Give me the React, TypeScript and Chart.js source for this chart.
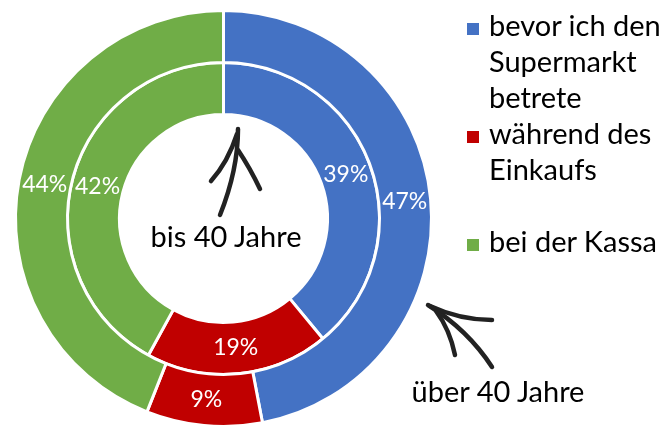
import React, { useEffect, useRef } from "react";
import { Chart, registerables } from "chart.js";

Chart.register(...registerables);

const categories = ["bevor ich den Supermarkt betrete", "während des Einkaufs", "bei der Kassa"];
const legendLines = [["bevor ich den", "Supermarkt", "betrete"], ["während des", "Einkaufs"], ["bei der Kassa"]];
const seriesNames = ["über 40 Jahre", "bis 40 Jahre"];
const over40 = [47, 9, 44];
const upTo40 = [39, 19, 42];
const colors = ["#4472C4", "#C00000", "#70AD47"];

const FONT = "Lato, 'Open Sans', sans-serif";

const labelPlugin = {
  id: "pctLabels",
  afterDatasetsDraw(chart: any) {
    const ctx = chart.ctx;
    ctx.save();
    ctx.fillStyle = "#ffffff";
    ctx.font = `23px ${FONT}`;
    ctx.textAlign = "center";
    ctx.textBaseline = "middle";
    chart.data.datasets.forEach((ds: any, di: number) => {
      const meta = chart.getDatasetMeta(di);
      meta.data.forEach((arc: any, i: number) => {
        const p = arc.tooltipPosition();
        ctx.fillText(ds.data[i] + "%", p.x, p.y);
      });
    });
    ctx.restore();
  },
};

const arrowPlugin = {
  id: "handArrows",
  afterDraw(chart: any) {
    const ctx = chart.ctx;
    ctx.save();
    ctx.strokeStyle = "#222222";
    ctx.lineWidth = 4.5;
    ctx.lineCap = "round";
    ctx.lineJoin = "round";
    // arrow pointing to inner ring (bis 40 Jahre)
    ctx.beginPath();
    ctx.moveTo(220, 215);
    ctx.quadraticCurveTo(238, 170, 238, 129);
    ctx.stroke();
    ctx.beginPath();
    ctx.moveTo(237, 134);
    ctx.quadraticCurveTo(228, 162, 211, 181);
    ctx.stroke();
    ctx.beginPath();
    ctx.moveTo(238, 150);
    ctx.quadraticCurveTo(250, 168, 260, 189);
    ctx.stroke();
    // arrow pointing to outer ring (über 40 Jahre)
    ctx.beginPath();
    ctx.moveTo(428, 305);
    ctx.quadraticCurveTo(468, 330, 492, 367);
    ctx.stroke();
    ctx.beginPath();
    ctx.moveTo(430, 306);
    ctx.quadraticCurveTo(460, 320, 492, 320);
    ctx.stroke();
    ctx.beginPath();
    ctx.moveTo(436, 311);
    ctx.quadraticCurveTo(450, 330, 455, 355);
    ctx.stroke();
    ctx.restore();
  },
};

export default function App() {
  const ref = useRef<HTMLCanvasElement>(null);

  useEffect(() => {
    document.body.style.margin = "0";
    document.body.style.overflow = "hidden";
    const chart = new Chart(ref.current as HTMLCanvasElement, {
      type: "doughnut",
      data: {
        labels: categories,
        datasets: [
          { label: seriesNames[0], data: over40, backgroundColor: colors, borderColor: "#ffffff", borderWidth: 3 },
          { label: seriesNames[1], data: upTo40, backgroundColor: colors, borderColor: "#ffffff", borderWidth: 3 },
        ],
      },
      options: {
        animation: false,
        responsive: false,
        cutout: "50%",
        layout: { padding: { left: 14, right: 230, top: 9, bottom: 4 } },
        plugins: { legend: { display: false }, tooltip: { enabled: false } },
      },
      plugins: [labelPlugin, arrowPlugin],
    });
    return () => chart.destroy();
  }, []);

  const lineH = 36;
  const legendStarts = [0, 3, 6];

  return (
    <div style={{ position: "relative", width: 663, height: 425, overflow: "hidden", background: "#fff", fontFamily: FONT }}>
      <canvas ref={ref} width={663} height={432} style={{ position: "absolute", left: 0, top: 0 }} />
      {legendLines.map((lines, i) => (
        <div key={i} style={{ position: "absolute", left: 467, top: 7 + legendStarts[i] * lineH }}>
          <div style={{ position: "absolute", left: 0, top: 16, width: 12, height: 12, background: colors[i] }} />
          <div style={{ position: "absolute", left: 22, top: 0, fontSize: 29, lineHeight: lineH + "px", whiteSpace: "nowrap", color: "#000" }}>
            {lines.map((l, j) => (
              <div key={j}>{l}</div>
            ))}
          </div>
        </div>
      ))}
      <div style={{ position: "absolute", left: 226, top: 218, transform: "translateX(-50%)", fontSize: 29, lineHeight: "36px", whiteSpace: "nowrap", color: "#000" }}>
        {seriesNames[1]}
      </div>
      <div style={{ position: "absolute", left: 498, top: 373, transform: "translateX(-50%)", fontSize: 29, lineHeight: "36px", whiteSpace: "nowrap", color: "#000" }}>
        {seriesNames[0]}
      </div>
    </div>
  );
}
